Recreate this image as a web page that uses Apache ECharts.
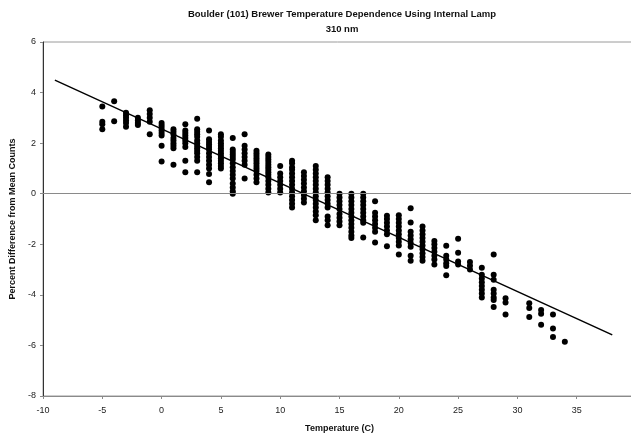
<!DOCTYPE html>
<html>
<head>
<meta charset="utf-8">
<script src="https://cdn.jsdelivr.net/npm/echarts@6/dist/echarts.min.js"></script>
<style>
  html, body { margin: 0; padding: 0; background: #fff; }
  #chart { width: 631px; height: 433px; }
</style>
</head>
<body>
<div id="chart"></div>
<script>
// temperature (C) of each column of readings
var temps = [-5, -4, -3, -2, -1, 0, 1, 2, 3, 4, 5, 6, 7, 8, 9, 10, 11, 12, 13, 14, 15, 16, 17,
  18, 19, 20, 21, 22, 23, 24, 25, 26, 27, 28, 29, 31, 32, 33, 34]
// percent difference from mean counts, one list per temperature
var readings = [
  [3.45, 2.85, 2.75, 2.55],
  [3.66, 2.87],
  [3.2, 3.1, 3.0, 2.9, 2.8, 2.65],
  [3.0, 2.9, 2.8, 2.72],
  [3.3, 3.15, 3.0, 2.85, 2.35],
  [2.8, 2.7, 2.6, 2.5, 2.4, 2.3, 1.9, 1.27],
  [2.55, 2.45, 2.35, 2.2, 2.1, 2.0, 1.9, 1.8, 1.15],
  [2.75, 2.5, 2.4, 2.3, 2.2, 2.1, 2.0, 1.85, 1.3, 0.85],
  [2.96, 2.55, 2.45, 2.35, 2.25, 2.1, 2.0, 1.9, 1.8, 1.7, 1.6, 1.45, 1.3, 0.85],
  [2.5, 2.15, 2.05, 1.95, 1.85, 1.75, 1.6, 1.45, 1.3, 1.15, 1.0, 0.78, 0.45],
  [2.35, 2.25, 2.1, 2.0, 1.9, 1.8, 1.7, 1.6, 1.5, 1.4, 1.3, 1.2, 1.1, 1.0],
  [2.2, 1.75, 1.65, 1.55, 1.45, 1.35, 1.2, 1.05, 0.9, 0.75, 0.6, 0.4, 0.25, 0.1, 0.0],
  [2.35, 1.9, 1.75, 1.6, 1.45, 1.3, 1.15, 0.6],
  [1.7, 1.6, 1.5, 1.4, 1.3, 1.2, 1.1, 1.0, 0.9, 0.75, 0.6, 0.45],
  [1.55, 1.45, 1.35, 1.25, 1.15, 1.05, 0.95, 0.85, 0.75, 0.65, 0.5, 0.35, 0.2, 0.05],
  [1.1, 0.8, 0.65, 0.5, 0.35, 0.2, 0.05],
  [1.3, 1.2, 1.05, 0.95, 0.8, 0.65, 0.5, 0.35, 0.2, 0.05, -0.1, -0.25, -0.4, -0.55],
  [0.85, 0.7, 0.55, 0.4, 0.25, 0.1, -0.05, -0.2, -0.35],
  [1.1, 0.95, 0.8, 0.65, 0.5, 0.35, 0.2, 0.05, -0.1, -0.25, -0.4, -0.55, -0.7, -0.85, -1.05],
  [0.65, 0.5, 0.35, 0.2, 0.05, -0.1, -0.25, -0.4, -0.55, -0.9, -1.05, -1.25],
  [0.0, -0.15, -0.3, -0.45, -0.6, -0.8, -0.95, -1.1, -1.25],
  [0.0, -0.15, -0.3, -0.45, -0.6, -0.75, -0.9, -1.05, -1.2, -1.35, -1.5, -1.65, -1.75],
  [0.0, -0.15, -0.3, -0.45, -0.6, -0.75, -0.9, -1.05, -1.15, -1.73],
  [-0.3, -0.75, -0.9, -1.05, -1.2, -1.35, -1.5, -1.93],
  [-0.87, -1.0, -1.15, -1.3, -1.45, -1.6, -2.08],
  [-0.85, -1.0, -1.15, -1.3, -1.45, -1.6, -1.75, -1.9, -2.05, -2.4],
  [-0.57, -1.14, -1.5, -1.65, -1.8, -1.95, -2.1, -2.45, -2.65],
  [-1.3, -1.45, -1.6, -1.75, -1.9, -2.05, -2.2, -2.35, -2.5, -2.65],
  [-1.87, -2.0, -2.15, -2.3, -2.45, -2.6, -2.8],
  [-2.06, -2.45, -2.6, -2.75, -2.86, -3.22],
  [-1.78, -2.33, -2.68, -2.8],
  [-2.7, -2.85, -3.0],
  [-2.93, -3.2, -3.35, -3.5, -3.65, -3.8, -3.95, -4.1],
  [-2.4, -3.2, -3.4, -3.8, -3.95, -4.1, -4.2, -4.48],
  [-4.13, -4.3, -4.78],
  [-4.33, -4.52, -4.88],
  [-4.6, -4.75, -5.18],
  [-4.78, -5.33, -5.67],
  [-5.85]
]
// linear fit drawn across the plot
var trendX = [-9, 38]
var trendY = [4.49, -5.58]
var xTicks = [-10, -5, 0, 5, 10, 15, 20, 25, 30, 35]
var yTicks = [-8, -6, -4, -2, 0, 2, 4, 6]

var points = []
temps.forEach(function (t, i) {
  readings[i].forEach(function (v) {
    points.push([t, v])
  })
})

var chart = echarts.init(document.getElementById('chart'), null, { renderer: 'canvas' })
var font = 'Arial, "Liberation Sans", sans-serif'

chart.setOption({
  animation: false,
  backgroundColor: '#fff',
  textStyle: { fontFamily: font },
  title: {
    text: 'Boulder (101) Brewer Temperature Dependence Using Internal Lamp\n310 nm',
    left: 337,
    top: 2,
    textAlign: 'center',
    textStyle: { fontSize: 9.5, fontWeight: 'bold', color: '#111', lineHeight: 15, fontFamily: font }
  },
  grid: {
    left: 43,
    right: -5,
    top: 42,
    bottom: 37,
    outerBoundsMode: 'none',
    show: true,
    borderColor: '#9a9a9a',
    borderWidth: 1
  },
  xAxis: {
    type: 'value',
    min: -10,
    max: 40,
    interval: 5,
    name: 'Temperature (C)',
    nameLocation: 'middle',
    nameGap: 28,
    nameTextStyle: { fontSize: 9, fontWeight: 'bold', color: '#111' },
    axisLine: { onZero: false, lineStyle: { color: '#8a8a8a', width: 1 } },
    axisTick: { show: true, length: 3, lineStyle: { color: '#8a8a8a' } },
    axisLabel: {
      fontSize: 9,
      color: '#222',
      margin: 10,
      formatter: function (v) { return xTicks.indexOf(v) >= 0 ? String(v) : '' }
    },
    splitLine: { show: false }
  },
  yAxis: {
    type: 'value',
    min: -8,
    max: 6,
    interval: 2,
    name: 'Percent Difference from Mean Counts',
    nameLocation: 'middle',
    nameGap: 20,
    nameTextStyle: { fontSize: 9, fontWeight: 'bold', color: '#111' },
    axisLine: { onZero: false, lineStyle: { color: '#333', width: 1 } },
    axisTick: { show: true, length: 3, lineStyle: { color: '#8a8a8a' } },
    axisLabel: {
      fontSize: 9,
      color: '#222',
      margin: 7,
      formatter: function (v) { return yTicks.indexOf(v) >= 0 ? String(v) : '' }
    },
    splitLine: { show: false }
  },
  series: [
    {
      name: 'zero',
      type: 'line',
      data: [],
      silent: true,
      markLine: {
        silent: true,
        symbol: 'none',
        label: { show: false },
        lineStyle: { color: '#8a8a8a', width: 1, type: 'solid' },
        data: [{ yAxis: 0 }]
      }
    },
    {
      name: 'readings',
      type: 'scatter',
      symbol: 'circle',
      symbolSize: 6,
      itemStyle: { color: '#000', opacity: 1 },
      data: points
    },
    {
      name: 'trend',
      type: 'line',
      symbol: 'none',
      lineStyle: { color: '#000', width: 1.5 },
      data: trendX.map(function (x, i) { return [x, trendY[i]] })
    }
  ]
})
</script>
</body>
</html>
